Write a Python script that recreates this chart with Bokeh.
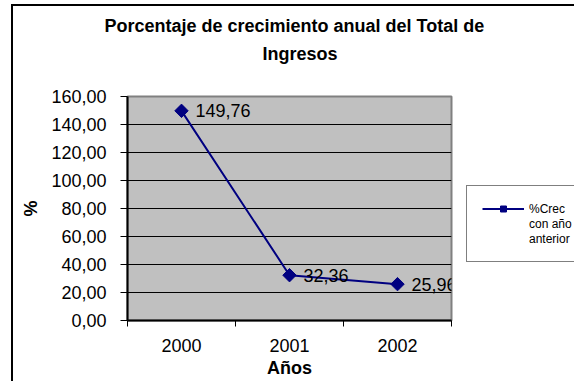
import math

from bokeh.core.properties import value
from bokeh.embed import file_html
from bokeh.models import (ColumnDataSource, FixedTicker, LabelSet, Legend,
                          LegendItem, Range1d, Title)
from bokeh.plotting import figure
from bokeh.resources import INLINE

# Annual growth of total income (%)
years = ["2000", "2001", "2002"]
crec = [149.76, 32.36, 25.96]
y_ticks = [0, 20, 40, 60, 80, 100, 120, 140, 160]
y_tick_labels = ["0,00", "20,00", "40,00", "60,00", "80,00",
                 "100,00", "120,00", "140,00", "160,00"]
title_lines = ["Porcentaje de crecimiento anual del Total de", "Ingresos"]
legend_lines = ["%Crec", "con año", "anterior"]

FONT = "Liberation Sans"
NAVY = "#000080"

# categories sit in the middle of unit-wide slots; slot borders carry the ticks
xs = [i + 0.5 for i in range(len(years))]
slot_edges = list(range(len(years) + 1))

src = ColumnDataSource(dict(
    x=xs,
    y=crec,
    label=[f"{v:.2f}".replace(".", ",") for v in crec],
))

p = figure(
    title=None,
    frame_width=324, frame_height=224,
    output_backend="svg", toolbar_location=None,
    x_range=Range1d(0, len(years)), y_range=Range1d(y_ticks[0], y_ticks[-1]),
    min_border_left=114, min_border_right=123,
    min_border_top=90, min_border_bottom=61,
    background_fill_color="#C0C0C0", border_fill_color="white",
    outline_line_color="#808080", outline_line_width=2,
    margin=(4, 0, 0, 11),
    styles={"border-left": "2px solid black", "border-top": "2px solid black"},
)

# x axis: labels at slot centres, small tick marks at slot borders
p.xaxis.ticker = FixedTicker(ticks=xs, minor_ticks=slot_edges)
p.xaxis.major_label_overrides = {x: y for x, y in zip(xs, years)}
p.xaxis.major_tick_line_color = None
p.xaxis.major_tick_out = 0
p.xaxis.major_tick_in = 0
p.xaxis.minor_tick_line_color = "black"
p.xaxis.minor_tick_out = 6
p.xaxis.minor_tick_in = 0
p.xaxis.major_label_standoff = 12
p.xaxis.axis_label = "Años"
p.xaxis.axis_label_standoff = 3
p.xgrid.visible = False

# y axis
p.yaxis.ticker = FixedTicker(ticks=y_ticks)
p.yaxis.major_label_overrides = dict(zip(y_ticks, y_tick_labels))
p.yaxis.major_tick_out = 7
p.yaxis.major_tick_in = 0
p.yaxis.minor_tick_line_color = None
p.yaxis.major_label_standoff = 14
p.yaxis.axis_label = "%"
p.yaxis.axis_label_standoff = 7
p.ygrid.grid_line_color = "black"
p.ygrid.grid_line_width = 1

for ax in (p.xaxis, p.yaxis):
    ax.axis_line_color = "black"
    ax.axis_line_width = 2
    ax.major_tick_line_width = 1
    ax.major_label_text_font = FONT
    ax.major_label_text_font_size = "18px"
    ax.major_label_text_color = "black"
    ax.axis_label_text_font = FONT
    ax.axis_label_text_font_size = "18px"
    ax.axis_label_text_font_style = "bold"
    ax.axis_label_text_color = "black"

# series
line_r = p.line("x", "y", source=src, line_color=NAVY, line_width=2)
mark_r = p.scatter("x", "y", source=src, marker="square", angle=math.pi / 4,
                   size=9.5, fill_color=NAVY, line_color=NAVY)
value_labels = LabelSet(x="x", y="y", text="label", source=src,
                        x_offset=14, text_baseline="middle", text_align="left",
                        text_font=value(FONT), text_font_size="18px",
                        text_color="black")
# let the last value label run past the plot area edge where supported
if "clip" in value_labels.properties():
    value_labels.clip = False
p.add_layout(value_labels)

# two-line title; panels stack upward from the frame: gap, second line, first line
title_style = dict(text_font=FONT, text_font_size="18px",
                   text_font_style="bold", text_color="black",
                   vertical_align="bottom")
p.add_layout(Title(text=" ", standoff=11, **title_style), "above")
p.add_layout(Title(text=title_lines[1], align="left", offset=135, standoff=0,
                   **title_style), "above")
p.add_layout(Title(text=title_lines[0], align="left", offset=-23, standoff=12,
                   **title_style), "above")

# legend: series key followed by the wrapped rest of its label
blank_r = p.line([], [], line_alpha=0)
items = [LegendItem(label=legend_lines[0], renderers=[line_r, mark_r])]
items += [LegendItem(label=t, renderers=[blank_r]) for t in legend_lines[1:]]
legend = Legend(items=items, location=(15, 58), padding=15, margin=0,
                spacing=0, label_height=15, glyph_height=15, glyph_width=42,
                label_standoff=5, border_line_color="black",
                border_line_width=1, background_fill_color="white",
                label_text_font=FONT, label_text_font_size="12px",
                label_text_color="black")
p.add_layout(legend, "right")

open("out.html", "w").write(file_html(p, INLINE))
